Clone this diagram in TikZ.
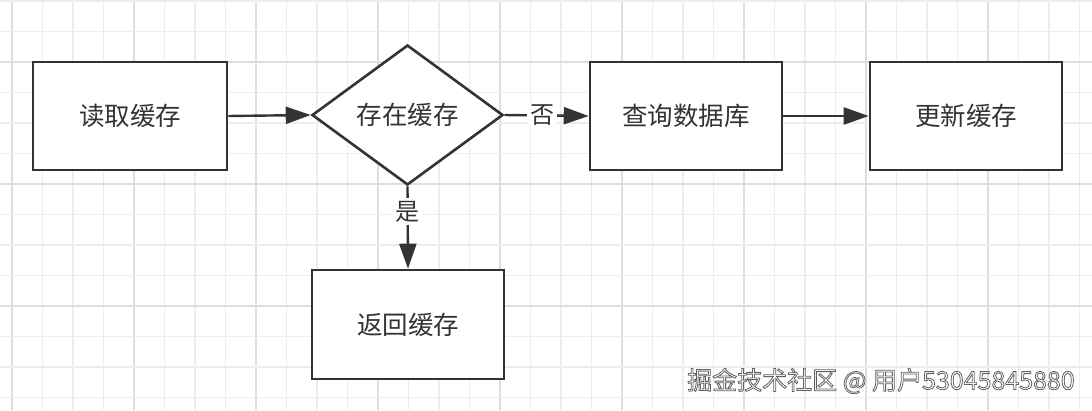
\documentclass[tikz,border=0pt]{standalone}
\usepackage{fontspec}
\newfontfamily\cjk{Noto Sans CJK SC}
\usetikzlibrary{shapes.geometric,arrows.meta}
\definecolor{ink}{HTML}{333333}
\definecolor{gridminor}{HTML}{EDEDED}
\definecolor{gridmajor}{HTML}{DEDEDE}
\tikzset{
  procbox/.style={draw=ink, line width=2.6pt, fill=white, minimum width=192pt, minimum height=108pt, inner sep=0pt, font=\cjk\fontsize{25.5}{28}\selectfont, text=ink},
  decision/.style={diamond, draw=ink, line width=2.6pt, fill=white, minimum width=191pt, minimum height=140pt, inner sep=0pt, font=\cjk\fontsize{25.5}{28}\selectfont, text=ink},
  flow/.style={draw=ink, line width=2.4pt, -{Triangle[length=25pt,width=17pt]}},
  edgelabel/.style={fill=white, inner sep=3pt, font=\cjk\fontsize{24}{26}\selectfont, text=ink},
  wm/.style={anchor=west, inner sep=0pt, font=\cjk\fontsize{25}{27}\selectfont, text=white}
}
\newcommand{\outlinedtext}[1]{\special{pdf:literal direct 0.38 G 0.8 w 2 Tr}#1\special{pdf:literal direct 0 Tr}}
\begin{document}
\begin{tikzpicture}[x=1pt,y=-1pt]
\useasboundingbox (0,0) rectangle (1092,410);
\fill[white] (0,0) rectangle (1092,410);
% grid
\foreach \k in {0,...,35}{
  \pgfmathsetmacro{\gx}{12+30.5*\k}
  \pgfmathtruncatemacro{\m}{mod(\k,4)}
  \ifnum\m=0
    \draw[gridmajor, line width=1.6pt] (\gx,0) -- (\gx,410);
  \else
    \draw[gridminor, line width=1.4pt] (\gx,0) -- (\gx,410);
  \fi
}
\foreach \k in {0,...,13}{
  \pgfmathsetmacro{\gy}{1+30.5*\k}
  \pgfmathtruncatemacro{\m}{mod(\k,4)}
  \ifnum\m=2
    \draw[gridmajor, line width=1.6pt] (0,\gy) -- (1092,\gy);
  \else
    \draw[gridminor, line width=1.4pt] (0,\gy) -- (1092,\gy);
  \fi
}
% nodes
\node[procbox, minimum width=194pt] (read) at (130,116) {读取缓存};
\node[decision] (exists) at (407.5,115) {存在缓存};
\node[procbox] (query) at (686,116) {查询数据库};
\node[procbox] (update) at (966,116) {更新缓存};
\node[procbox, minimum height=109pt] (ret) at (408,324.5) {返回缓存};
% connectors
\draw[flow] (read.east) -- (exists.west);
\draw[flow] (exists.east) -- node[edgelabel, pos=0.45] (no) {否} (query.west);
\draw[flow] (query.east) -- (update.west);
\draw[flow] (exists.south) -- node[edgelabel, pos=0.31] (yes) {是} (ret.north);
% watermark
\node[wm] (wmark) at (687,381) {\outlinedtext{掘金技术社区 @ 用户53045845880}};
\end{tikzpicture}
\end{document}
